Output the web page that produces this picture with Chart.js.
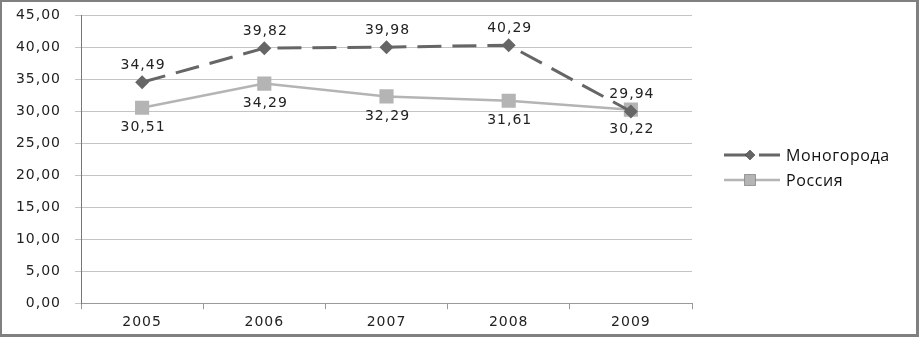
<!DOCTYPE html>
<html>
<head>
<meta charset="utf-8">
<script src="https://cdn.jsdelivr.net/npm/chart.js@4.4.0/dist/chart.umd.min.js"></script>
<style>
  body { margin: 0; background: #fff; }
  #wrap { width: 919px; height: 337px; box-sizing: border-box; border: 3px solid #808080; border-top-width: 2px; border-left-width: 2px; }
</style>
</head>
<body>
<div id="wrap"><canvas id="c" width="914" height="332"></canvas></div>
<script>
const years = ['2005', '2006', '2007', '2008', '2009'];
const monogoroda = [34.49, 39.82, 39.98, 40.29, 29.94];
const russia = [30.51, 34.29, 32.29, 31.61, 30.22];
const seriesNames = ['Моногорода', 'Россия'];

const fmt = (v) => v.toFixed(2).replace('.', ',');
const tickFont = { family: 'DejaVu Sans', size: 14 };

// the source picture has wide, loosely spaced text
const spacing = {
    id: 'spacing',
    beforeUpdate(chart) { chart.ctx.letterSpacing = '1px'; },
    beforeDraw(chart) { chart.ctx.letterSpacing = '1px'; }
};

// value labels: first series above, second below
const valueLabels = {
    id: 'valueLabels',
    afterDatasetsDraw(chart) {
        const ctx = chart.ctx;
        ctx.save();
        ctx.font = '14px "DejaVu Sans"';
        ctx.fillStyle = '#222';
        ctx.textAlign = 'center';
        ctx.textBaseline = 'middle';
        chart.data.datasets.forEach((ds, i) => {
            chart.getDatasetMeta(i).data.forEach((pt, j) => {
                const dy = i === 0 ? -17 : 20;
                ctx.fillText(fmt(ds.data[j]), pt.x + 1, pt.y + dy);
            });
        });
        ctx.restore();
    }
};

// excel-style legend: line with marker in the middle
const sideLegend = {
    id: 'sideLegend',
    afterDraw(chart) {
        const ctx = chart.ctx;
        const x0 = 722, x1 = 778;
        const sizes = [5, 8];
        ctx.save();
        chart.data.datasets.forEach((ds, i) => {
            const y = 153 + i * 25;
            ctx.strokeStyle = ds.borderColor;
            ctx.lineWidth = ds.borderWidth;
            ctx.setLineDash(ds.borderDash || []);
            ctx.beginPath();
            ctx.moveTo(x0, y);
            ctx.lineTo(x1, y);
            ctx.stroke();
            ctx.setLineDash([]);
            Chart.helpers.drawPoint(ctx, {
                pointStyle: ds.pointStyle,
                radius: sizes[i],
                borderWidth: 0
            }, (x0 + x1) / 2 - 2, y);
            ctx.fillStyle = ds.pointBackgroundColor;
            ctx.fill();
            ctx.fillStyle = '#111';
            ctx.font = '16px "Open Sans"';
            ctx.letterSpacing = '0.6px';
            ctx.textBaseline = 'middle';
            ctx.fillText(seriesNames[i], x1 + 6, y + 1);
        });
        ctx.restore();
    }
};

new Chart(document.getElementById('c'), {
    type: 'line',
    data: {
        labels: years,
        datasets: [
            {
                label: seriesNames[0],
                data: monogoroda,
                borderColor: '#666666',
                borderWidth: 3,
                borderDash: [24, 11],
                pointStyle: 'rectRot',
                pointRadius: 7,
                pointBackgroundColor: '#666666',
                pointBorderWidth: 0,
                tension: 0
            },
            {
                label: seriesNames[1],
                data: russia,
                borderColor: '#b4b4b4',
                borderWidth: 2.5,
                pointStyle: 'rect',
                pointRadius: 10,
                pointBackgroundColor: '#b4b4b4',
                pointBorderWidth: 0,
                tension: 0
            }
        ]
    },
    options: {
        responsive: false,
        animation: false,
        layout: { padding: { top: 1, right: 224, bottom: -2, left: 0 } },
        plugins: {
            legend: { display: false },
            tooltip: { enabled: false }
        },
        scales: {
            x: {
                offset: true,
                grid: { offset: true, drawOnChartArea: false, drawTicks: true, tickLength: 6, color: '#999' },
                border: { color: '#999', width: 1 },
                ticks: { font: tickFont, color: '#222', padding: 5 }
            },
            y: {
                min: 0,
                max: 45,
                afterFit(scale) { scale.width = 79; scale.paddingTop = 13; },
                grid: { color: '#c4c4c4', tickLength: 6 },
                border: { color: '#777', width: 1 },
                ticks: { stepSize: 5, font: tickFont, color: '#222', padding: 14, callback: (v) => fmt(v) }
            }
        }
    },
    plugins: [spacing, valueLabels, sideLegend]
});
</script>
</body>
</html>
